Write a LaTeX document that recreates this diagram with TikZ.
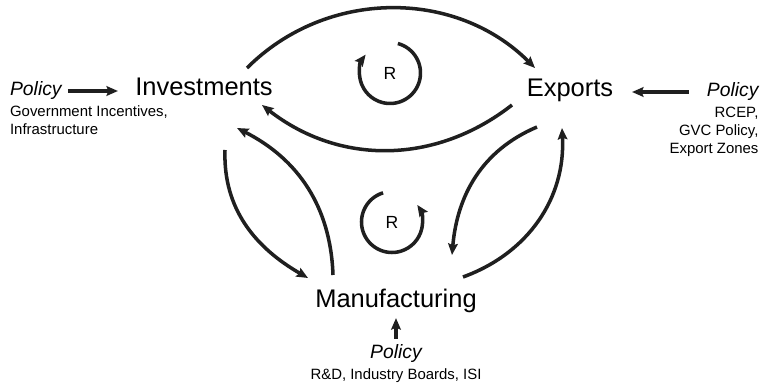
\documentclass[tikz,border=0pt]{standalone}
\usepackage{fontspec}
\setmainfont{Liberation Sans}
\usetikzlibrary{positioning,arrows.meta}
\tikzset{main node/.style={inner sep=0pt,font=\fontsize{14.5}{17}\selectfont},
    policy node/.style={inner sep=0pt,font=\fontsize{11}{13}\selectfont\itshape},
    note node/.style={inner sep=0pt,font=\fontsize{8.5}{10.3}\selectfont},
    loop node/.style={inner sep=0pt,font=\fontsize{10}{12}\selectfont},
    link/.style={draw=black!88,line width=2pt,-{Stealth[length=6.5pt,width=5.5pt,inset=1pt]}},}

\begin{document}
\begin{tikzpicture}[x=0.02cm,y=0.02cm]
        \useasboundingbox (0,0) rectangle (762,386);
        % Nodes
        \node[main node,anchor=base] (inv) at (204,290) {Investments};
        \node[main node,anchor=base] (exp) at (570,289) {Exports};
        \node[main node,anchor=base] (man) at (396,78) {Manufacturing};
        \node[policy node] [base left=1.46cm of inv] (pl) {Policy};
        \node[note node,align=left] [below right=0.1cm and 0cm of pl.south west] (plnote) {Government Incentives,\\Infrastructure};
        \node[policy node] [base right=1.86cm of exp] (pr) {Policy};
        \node[note node,align=right] [below left=0.1cm and 0cm of pr.south east] (prnote) {RCEP,\\GVC Policy,\\Export Zones};
        \node[policy node] [below=0.62cm of man] (pb) {Policy};
        \node[note node] [below=0.1cm of pb] (pbnote) {R\&D, Industry Boards, ISI};
        \node[loop node] (r1) at (390,313) {R};
        \node[loop node] (r2) at (392,164) {R};
        % Paths
        \draw[link,shorten <=0.12cm,shorten >=0.34cm] (pl) -- (pl -| inv.west);
        \draw[link,shorten <=0.36cm,shorten >=0.37cm] (pr) -- (pr -| exp.east);
        \draw[link,shorten <=0.12cm,shorten >=0.09cm] (pb) -- (man);
        \draw[link] ([shift={(43,28)}]inv.base) to[out=45,in=135] ([shift={(-35,29)}]exp.base);
        \draw[link] ([shift={(-58,-8)}]exp.base) to[out=218,in=322] ([shift={(58,-9)}]inv.base);
        \draw[link] ([shift={(21,-54)}]inv.base) to[out=268,in=150] ([shift={(-88,30)}]man.base);
        \draw[link] ([shift={(-63,33)}]man.base) to[out=92,in=333] ([shift={(33,-32)}]inv.base);
        \draw[link] ([shift={(-33,-30)}]exp.base) to[out=203,in=85] ([shift={(56,53)}]man.base);
        \draw[link] ([shift={(67,31)}]man.base) to[out=20,in=273] ([shift={(-8,-31)}]exp.base);
        \draw[link] (r1) ++(75:30.5) arc[start angle=75,end angle=-217,radius=30.5];
        \draw[link] (r2) ++(107:30.5) arc[start angle=107,end angle=394,radius=30.5];
\end{tikzpicture}
\end{document}
